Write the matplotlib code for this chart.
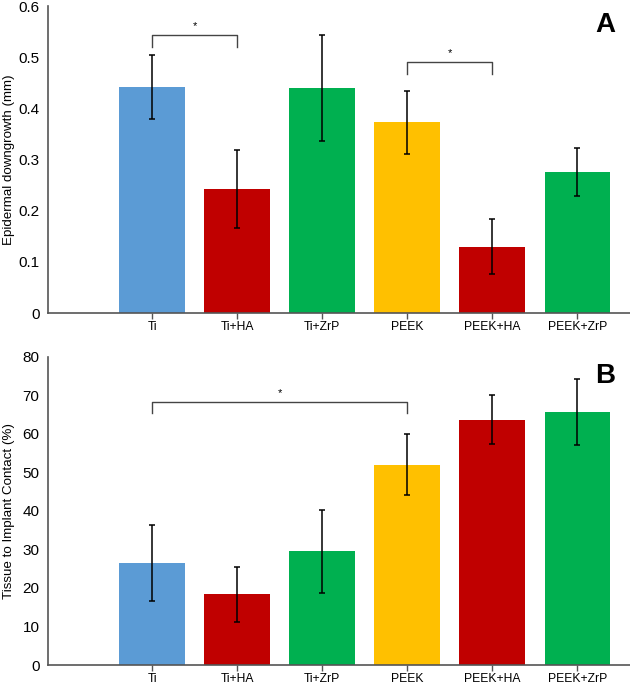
import matplotlib.pyplot as plt
import numpy as np

plt.rcParams['font.family'] = ['Liberation Sans', 'DejaVu Sans']

groups = ['Ti', 'Ti+HA', 'Ti+ZrP', 'PEEK', 'PEEK+HA', 'PEEK+ZrP']
colors = ['#5B9BD5', '#C00000', '#00B050', '#FFC000', '#C00000', '#00B050']

# A: epidermal downgrowth (mm)
down_mean = [0.442, 0.242, 0.440, 0.373, 0.130, 0.276]
down_err = [0.062, 0.076, 0.104, 0.062, 0.054, 0.047]
# B: tissue to implant contact (%)
tic_mean = [26.5, 18.3, 29.5, 52.0, 63.7, 65.6]
tic_err = [9.9, 7.1, 10.7, 7.9, 6.4, 8.5]

# significance brackets: (from, to, height, leg length)
sig_a = [(0, 1, 0.543, 0.023), (3, 4, 0.490, 0.023)]
sig_b = [(0, 3, 68.2, 2.9)]

fig = plt.figure(figsize=(6.3, 6.86), dpi=100)
axA = fig.add_axes([0.076, 0.5437, 0.924, 0.4473])
axB = fig.add_axes([0.076, 0.0306, 0.924, 0.4494])

x = np.arange(1, len(groups) + 1)


def panel(ax, mean, err, ymax, yticks, ylabel, sigs, letter, ticklabels):
    ax.bar(x, mean, width=0.77, color=colors, zorder=2)
    ax.errorbar(x, mean, yerr=err, fmt='none', ecolor='black',
                elinewidth=1.1, capsize=2.2, capthick=1.1, zorder=3)
    ax.set_xlim(-0.224, 6.62)
    ax.set_ylim(0, ymax)
    ax.set_yticks(yticks)
    ax.set_yticklabels(ticklabels, fontsize=11)
    ax.set_xticks(x)
    ax.set_xticklabels(groups, fontsize=8.7)
    ax.tick_params(axis='y', length=0, pad=6)
    ax.tick_params(axis='x', length=4, width=1, color='#555555', pad=2)
    ax.set_ylabel(ylabel, fontsize=9.6)
    ax.yaxis.set_label_coords(-0.057, 0.5)
    for s in ['top', 'right']:
        ax.spines[s].set_visible(False)
    for s in ['left', 'bottom']:
        ax.spines[s].set_color('#555555')
        ax.spines[s].set_linewidth(1.2)
    for i, j, h, leg in sigs:
        xs = [x[i], x[i], x[j], x[j]]
        ys = [h - leg, h, h, h - leg]
        ax.plot(xs, ys, color='#444444', lw=1)
        ax.text((x[i] + x[j]) / 2, h + leg * 0.4, '*', ha='center',
                va='bottom', fontsize=8)
    ax.text(0.974, 0.98, letter, transform=ax.transAxes, ha='right',
            va='top', fontsize=20, fontweight='bold')


panel(axA, down_mean, down_err, 0.6, np.arange(0, 0.61, 0.1),
      'Epidermal downgrowth (mm)', sig_a, 'A',
      ['0', '0.1', '0.2', '0.3', '0.4', '0.5', '0.6'])
panel(axB, tic_mean, tic_err, 80, np.arange(0, 81, 10),
      'Tissue to Implant Contact (%)', sig_b, 'B',
      [str(v) for v in range(0, 81, 10)])

plt.savefig('out.png', dpi=100)
plt.close()
